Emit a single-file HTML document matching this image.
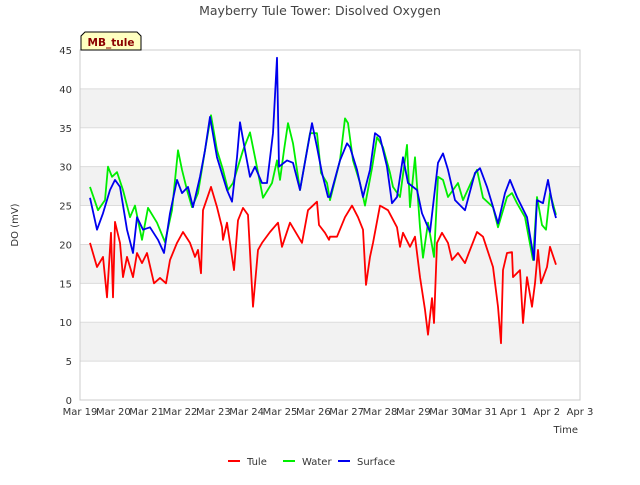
<!DOCTYPE html>
<html><head><meta charset="utf-8"><style>
body{margin:0;background:#fff;}
text{font-family:"DejaVu Sans","Liberation Sans",sans-serif;}
</style></head><body>
<svg id="chart" width="640" height="480" xmlns="http://www.w3.org/2000/svg">
<rect width="640" height="480" fill="#fff"/>
<text x="320" y="15" text-anchor="middle" font-size="12.5" fill="#444">Mayberry Tule Tower: Disolved Oxygen</text>
<g id="bands"></g><g id="grid"></g>
<rect x="80" y="50" width="500" height="350" fill="none" stroke="#ccc"/>
<g id="yticks"></g><g id="xticks"></g><g id="series"></g>
<text x="18" y="225" transform="rotate(-90 18 225)" text-anchor="middle" font-size="10" fill="#333">DO (mV)</text>
<text x="578" y="433" text-anchor="end" font-size="10" fill="#333">Time</text>
<g>
<path d="M81,50 L81,36 L85,32 L137,32 L141,36 L141,50 Z" fill="#ffffc0" stroke="#000"/>
<text x="111" y="46" text-anchor="middle" font-size="10.5" font-weight="bold" fill="#8b0000">MB_tule</text>
</g>
<g id="legend"></g>
</svg>
<script>
const yTicks=[0,5,10,15,20,25,30,35,40,45];
const xTickLabels=["Mar 19","Mar 20","Mar 21","Mar 22","Mar 23","Mar 24","Mar 25","Mar 26","Mar 27","Mar 28","Mar 29","Mar 30","Mar 31","Apr 1","Apr 2","Apr 3"];
const seriesNames=["Tule","Water","Surface"];
const tuleT=[0.30,0.51,0.69,0.81,0.93,0.99,1.05,1.20,1.29,1.41,1.59,1.71,1.86,2.01,2.22,2.40,2.58,2.70,2.91,3.09,3.30,3.45,3.54,3.63,3.69,3.93,4.11,4.26,4.29,4.41,4.62,4.74,4.89,5.04,5.19,5.34,5.46,5.70,5.94,6.06,6.30,6.66,6.84,7.11,7.17,7.35,7.47,7.50,7.71,7.95,8.16,8.34,8.49,8.58,8.70,8.79,9.00,9.24,9.51,9.60,9.69,9.90,10.05,10.20,10.35,10.44,10.56,10.62,10.71,10.86,11.04,11.16,11.34,11.55,11.70,11.91,12.09,12.39,12.54,12.63,12.69,12.81,12.96,12.99,13.20,13.29,13.41,13.56,13.65,13.74,13.83,14.01,14.10,14.28];
const tuleV=[20.2,17.1,18.4,13.2,21.5,13.2,22.9,20.2,15.8,18.4,15.8,18.9,17.6,18.9,15,15.7,15,18,20.2,21.6,20.2,18.4,19.3,16.3,24.4,27.4,24.8,22.2,20.6,22.8,16.7,23.1,24.7,23.8,12,19.3,20.2,21.6,22.8,19.7,22.8,20.2,24.4,25.5,22.5,21.5,20.6,21,21,23.5,25,23.5,21.9,14.8,18.4,20.2,25,24.4,22.2,19.7,21.5,19.7,21,15.8,11.6,8.4,13.1,9.9,20.2,21.5,20.2,18,18.9,17.6,19.3,21.6,21,17.1,12,7.3,16.7,18.9,19,15.8,16.7,9.9,15.8,12,15,19.3,15,17.1,19.7,17.4];
const waterT=[0.30,0.54,0.75,0.84,0.96,1.11,1.29,1.50,1.65,1.86,2.04,2.31,2.55,2.76,2.94,3.06,3.21,3.36,3.54,3.75,3.93,4.11,4.29,4.44,4.59,4.89,5.10,5.25,5.49,5.76,5.91,6.00,6.12,6.24,6.39,6.60,6.90,7.11,7.23,7.41,7.50,7.80,7.95,8.04,8.19,8.40,8.55,8.76,8.91,9.09,9.30,9.39,9.60,9.81,9.90,10.05,10.20,10.29,10.44,10.62,10.74,10.89,11.04,11.34,11.49,11.91,12.09,12.39,12.54,12.81,12.96,13.11,13.35,13.59,13.71,13.86,13.98,14.10,14.28];
const waterV=[27.4,24.4,25.7,30,28.7,29.3,27,23.5,25,20.6,24.7,22.8,20.3,24.4,32.1,29.6,27,24.8,26.6,32.1,36.6,32.1,29.6,27,27.9,32.1,34.4,31.2,26,27.9,30.8,28.3,32.1,35.6,33,27,34.3,34.3,29.2,27.9,25.7,30.8,36.2,35.6,30.8,27.9,25,29.8,33.8,32.5,29.2,27.4,26.1,32.8,24.8,31.2,22.2,18.3,22.8,18.4,28.7,28.3,26.1,27.9,25.7,29.6,26,24.8,22.2,26.1,26.6,25.3,23.5,18,26.1,22.5,21.9,26.6,23.8];
const surfT=[0.30,0.51,0.69,0.90,1.05,1.20,1.41,1.59,1.71,1.89,2.10,2.34,2.52,2.70,2.91,3.06,3.24,3.39,3.60,3.75,3.90,4.11,4.41,4.56,4.71,4.80,4.95,5.10,5.25,5.46,5.61,5.79,5.91,5.97,6.21,6.39,6.60,6.96,7.11,7.26,7.44,7.50,7.80,8.01,8.10,8.31,8.49,8.70,8.85,9.00,9.21,9.36,9.51,9.69,9.84,10.11,10.26,10.50,10.74,10.89,11.04,11.25,11.55,11.85,12.00,12.21,12.54,12.75,12.90,13.11,13.41,13.62,13.71,13.89,14.04,14.19,14.28];
const surfV=[26,21.9,24,27,28.3,27.4,21.9,18.9,23.5,21.9,22.2,20.6,18.9,24,28.3,26.6,27.4,24.8,28.7,32.1,36.4,31.2,27,25.5,31.2,35.7,32.1,28.7,30,27.9,27.9,34.3,44,30,30.8,30.5,27,35.6,32.5,29.2,26.1,26.1,30.8,33,32.5,29.6,26.1,29.6,34.3,33.8,30,25.3,26.1,31.2,27.9,27,24,21.6,30.5,31.7,29.6,25.7,24.4,29.2,29.8,27.4,22.7,26.6,28.3,26.1,23.5,18,25.7,25.3,28.3,24.8,23.4];
const NS="http://www.w3.org/2000/svg";
const X0=80,X1=580,Y0=400,Y1=50;
function xs(t){return X0+t*(X1-X0)/15;}
function ys(v){return Y0-v*(Y0-Y1)/45;}
function mk(tag,attrs,parent){const e=document.createElementNS(NS,tag);for(const k in attrs)e.setAttribute(k,attrs[k]);parent.appendChild(e);return e;}
const bands=document.getElementById('bands'),grid=document.getElementById('grid'),yt=document.getElementById('yticks'),xt=document.getElementById('xticks');
for(let i=0;i<yTicks.length-1;i++){
  if(i%2===1){const b=mk('rect',{x:X0,y:ys(yTicks[i+1]),width:X1-X0,height:ys(yTicks[i])-ys(yTicks[i+1]),fill:'#f2f2f2'},bands);
  
  }
}
yTicks.forEach(v=>{
  const l=mk('line',{x1:X0,x2:X1,y1:ys(v),y2:ys(v),stroke:'#dcdcdc'},grid);
  
  
  const t=mk('text',{x:X0-8,y:ys(v)+4,'text-anchor':'end','font-size':10,fill:'#333'},yt);t.textContent=v;
  
  
});
xTickLabels.forEach((s,i)=>{
  const t=mk('text',{x:xs(i),y:415,'text-anchor':'middle','font-size':10,fill:'#333'},xt);t.textContent=s;
  
  
});
const ser=document.getElementById('series');
[[tuleT,tuleV,'#ff0000','tule-line'],[waterT,waterV,'#00ee00','water-line'],[surfT,surfV,'#0000ee','surface-line']].forEach(([T,V,c,n])=>{
  const p=mk('polyline',{points:T.map((t,i)=>xs(t).toFixed(1)+','+ys(V[i]).toFixed(1)).join(' '),fill:'none',stroke:c,'stroke-width':1.8,'stroke-linejoin':'round'},ser);
  
  
});
const lg=document.getElementById('legend');
const lcol=['#ff0000','#00ee00','#0000ee'],lx=[228,283,338];
seriesNames.forEach((s,i)=>{
  const g=mk('g',{},lg);
  
  
  mk('line',{x1:lx[i],x2:lx[i]+12,y1:461,y2:461,stroke:lcol[i],'stroke-width':2},g);
  const t=mk('text',{x:lx[i]+19,y:465,'font-size':10,fill:'#333'},g);t.textContent=s;
});
</script>
</body></html>
